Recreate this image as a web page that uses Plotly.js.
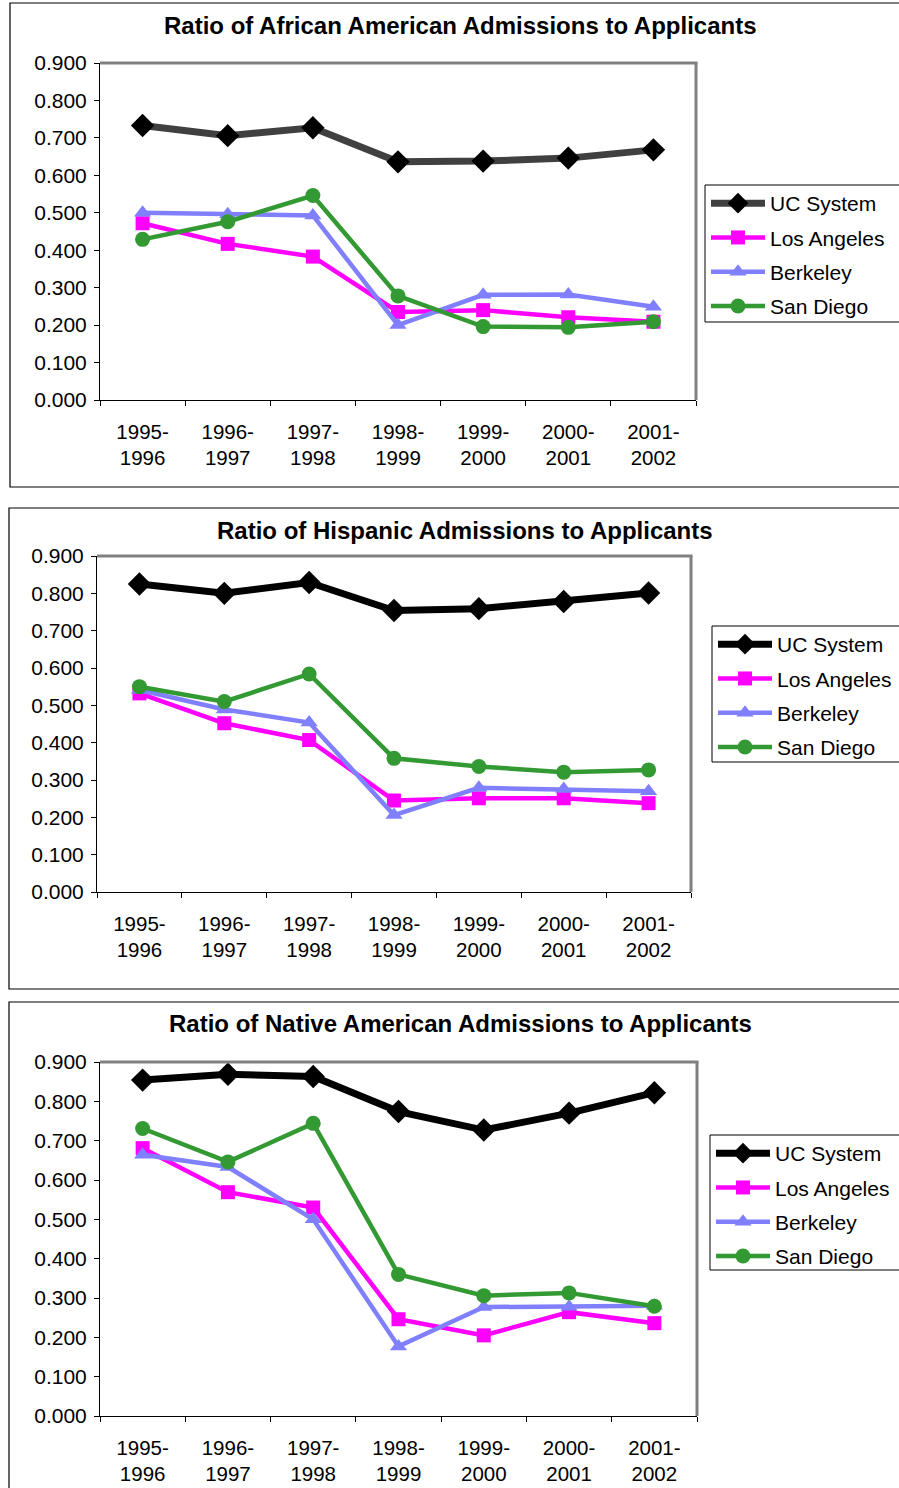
<!DOCTYPE html>
<html>
<head>
<meta charset="utf-8">
<script src="https://cdn.plot.ly/plotly-3.0.1.min.js"></script>
<style>html,body{margin:0;padding:0;background:#fff;}#chart{width:899px;height:1488px;}</style>
</head>
<body>
<div id="chart"></div>
<script>
const categories = ['1995-<br>1996','1996-<br>1997','1997-<br>1998','1998-<br>1999','1999-<br>2000','2000-<br>2001','2001-<br>2002'];
const seriesNames = ['UC System','Los Angeles','Berkeley','San Diego'];
const yTickVals = [0,0.1,0.2,0.3,0.4,0.5,0.6,0.7,0.8,0.9];

const panelTitles = [
  'Ratio of African American Admissions to Applicants',
  'Ratio of Hispanic Admissions to Applicants',
  'Ratio of Native American Admissions to Applicants'
];

const african_uc   = [0.733, 0.706, 0.727, 0.636, 0.638, 0.646, 0.668];
const african_la   = [0.472, 0.417, 0.383, 0.235, 0.240, 0.221, 0.209];
const african_berk = [0.500, 0.496, 0.493, 0.200, 0.281, 0.282, 0.249];
const african_sd   = [0.429, 0.476, 0.546, 0.278, 0.196, 0.194, 0.209];

const hispanic_uc   = [0.825, 0.800, 0.829, 0.754, 0.759, 0.778, 0.801];
const hispanic_la   = [0.532, 0.452, 0.407, 0.245, 0.251, 0.251, 0.238];
const hispanic_berk = [0.541, 0.489, 0.454, 0.206, 0.279, 0.276, 0.270];
const hispanic_sd   = [0.550, 0.510, 0.584, 0.358, 0.336, 0.321, 0.327];

const native_uc   = [0.854, 0.869, 0.863, 0.774, 0.727, 0.770, 0.822];
const native_la   = [0.681, 0.569, 0.530, 0.246, 0.205, 0.264, 0.236];
const native_berk = [0.664, 0.633, 0.500, 0.177, 0.277, 0.278, 0.280];
const native_sd   = [0.731, 0.646, 0.744, 0.360, 0.306, 0.313, 0.279];

const panelData = [
  [african_uc, african_la, african_berk, african_sd],
  [hispanic_uc, hispanic_la, hispanic_berk, hispanic_sd],
  [native_uc, native_la, native_berk, native_sd]
];

const W = 899, H = 1488;
const px = x => x / W;
const py = y => 1 - y / H;
const FONT = 'Liberation Sans, Arial, sans-serif';

// geometry per panel (pixels)
const geo = [
  {plot:[100,63,696,400], box:[10,3,910,487], legend:[705,185,910,322], titleY:25, titleX:460},
  {plot:[97,556,691,892], box:[9,508,910,989], legend:[712,626,910,762], titleY:530, titleX:465},
  {plot:[100,1062,697,1416], box:[9,1002,910,1500], legend:[710,1135,910,1270], titleY:1023, titleX:460}
];

const styles = [
  {symbol:'diamond', msize:18, width:7, mcolor:'#000000'},
  {symbol:'square', msize:14, width:4.5, mcolor:'#FF00FF', color:'#FF00FF'},
  {symbol:'triangle-up', msize:15, width:4.5, mcolor:'#8080FF', color:'#8080FF'},
  {symbol:'circle', msize:15, width:4.5, mcolor:'#339933', color:'#339933'}
];
const ucLineColors = ['#404040', '#000000', '#000000'];

const traces = [];
const layout = {
  width: W, height: H,
  margin: {l:0, r:0, t:0, b:0},
  paper_bgcolor: '#ffffff',
  plot_bgcolor: '#ffffff',
  font: {family: FONT, color: '#000000'},
  shapes: [], annotations: []
};

geo.forEach((g, p) => {
  const sfx = p === 0 ? '' : String(p + 1);
  const legendKey = 'legend' + sfx;
  panelData[p].forEach((vals, s) => {
    const st = styles[s];
    traces.push({
      type: 'scatter', mode: 'lines+markers',
      x: categories, y: vals,
      name: seriesNames[s],
      legendgroup: 'p' + p + 's' + s,
      xaxis: 'x' + sfx, yaxis: 'y' + sfx,
      legend: legendKey,
      line: {color: s === 0 ? ucLineColors[p] : st.color, width: st.width},
      marker: {symbol: st.symbol, size: st.msize, color: st.mcolor, line: {width: 0}},
      cliponaxis: false,
      hoverinfo: 'skip'
    });
  });
  const [x0, y0, x1, y1] = g.plot;
  layout['xaxis' + sfx] = {
    domain: [px(x0), px(x1)],
    anchor: 'y' + sfx,
    type: 'category',
    categoryorder: 'array', categoryarray: categories,
    range: [-0.5, 6.5],
    tickson: 'boundaries',
    ticks: 'outside', ticklen: 5, tickwidth: 1, tickcolor: '#000',
    ticklabelstandoff: 13,
    showline: true, linecolor: '#000', linewidth: 1,
    showgrid: false, zeroline: false,
    tickfont: {family: FONT, size: 20.5, color: '#000'},
    fixedrange: true
  };
  layout['yaxis' + sfx] = {
    domain: [py(y1), py(y0)],
    anchor: 'x' + sfx,
    range: [0, 0.9],
    tickvals: yTickVals,
    tickformat: '.3f',
    ticks: 'outside', ticklen: 5, tickwidth: 1, tickcolor: '#000',
    ticklabelstandoff: 3,
    showline: true, linecolor: '#000', linewidth: 1,
    showgrid: false, zeroline: false,
    tickfont: {family: FONT, size: 21, color: '#000'},
    fixedrange: true
  };
  // plot-area gray border (top and right)
  layout.shapes.push({type:'line', xref:'paper', yref:'paper', x0:px(x0), x1:px(x1)+1.5/W, y0:py(y0), y1:py(y0), line:{color:'#808080', width:3}});
  layout.shapes.push({type:'line', xref:'paper', yref:'paper', x0:px(x1), x1:px(x1), y0:py(y0), y1:py(y1), line:{color:'#808080', width:3}});
  // outer chart box
  const b = g.box;
  layout.shapes.push({type:'rect', xref:'paper', yref:'paper', x0:px(b[0]), x1:px(b[2]), y0:py(b[3]), y1:py(b[1]), line:{color:'#000', width:1.2}, fillcolor:'rgba(0,0,0,0)'});
  // legend box
  const lg = g.legend;
  layout.shapes.push({type:'rect', xref:'paper', yref:'paper', x0:px(lg[0]), x1:px(lg[2]), y0:py(lg[3]), y1:py(lg[1]), line:{color:'#000', width:1}, fillcolor:'rgba(0,0,0,0)'});
  layout[legendKey] = {
    x: px(lg[0] + 1), y: py(lg[1] - 2), xanchor: 'left', yanchor: 'top',
    bgcolor: 'rgba(0,0,0,0)', borderwidth: 0,
    font: {family: FONT, size: 21, color: '#000'},
    itemwidth: 54,
    tracegroupgap: 4
  };
  layout.annotations.push({
    xref:'paper', yref:'paper', x: px(g.titleX), y: py(g.titleY),
    xanchor:'center', yanchor:'middle', showarrow:false,
    text: '<b>' + panelTitles[p] + '</b>',
    font: {family: FONT, size: 24, color: '#000'}
  });
});

Plotly.newPlot('chart', traces, layout, {displayModeBar: false, staticPlot: true});
</script>
</body>
</html>
